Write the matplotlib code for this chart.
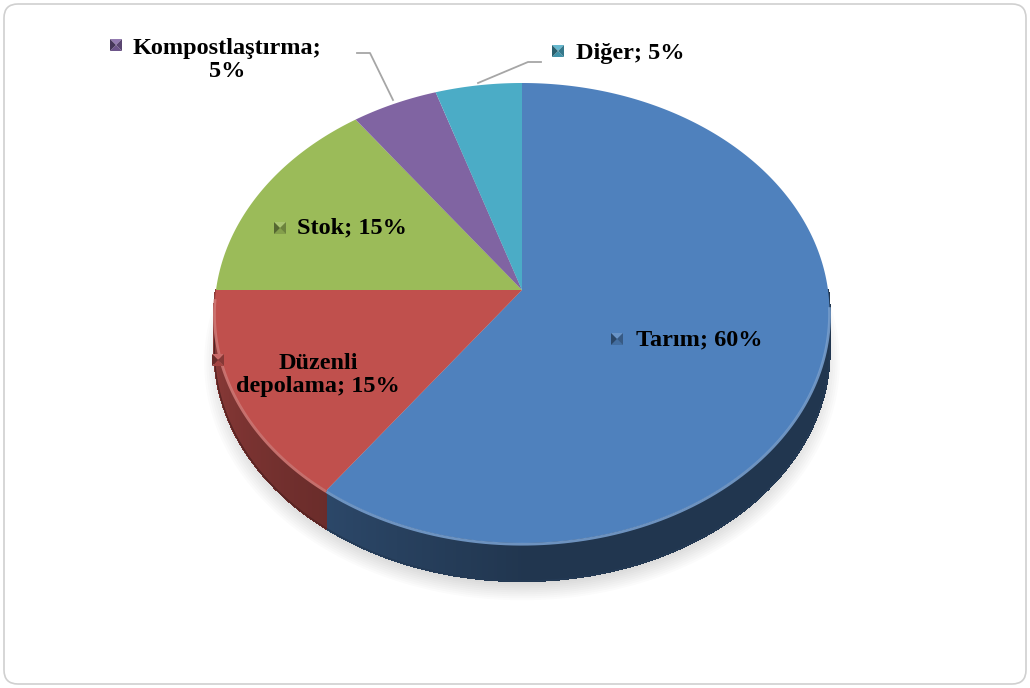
import numpy as np
import matplotlib
matplotlib.use("Agg")
from matplotlib import pyplot as plt
from matplotlib.patches import Polygon, FancyBboxPatch
from matplotlib.colors import to_rgb

# data
categories = ["Tarım", "Düzenli depolama", "Stok", "Kompostlaştırma", "Diğer"]
label_texts = ["Tarım; 60%", "Düzenli\ndepolama; 15%", "Stok; 15%", "Kompostlaştırma;\n5%", "Diğer; 5%"]
shares = [60, 15, 15, 5, 5]
colors = ["#4F81BD", "#C0504D", "#9BBB59", "#8064A2", "#4BACC6"]

# layout (pixel space of the 1030x688 picture)
W, H = 1030, 688
cx, cy = 522, 290
rx, ry, persp = 306, 227.7, 0.1
depth = 38
label_pos = [(636, 340), (318, 375), (297, 228), (227, 60), (576, 54)]
marker_pos = [(617, 339), (218, 360), (280, 228), (116, 45), (558, 51)]
label_ha = ["left", "center", "left", "center", "left"]
leaders = [None, None, None,
           [(357, 53), (370, 53), (393, 100)],
           [(541, 62), (528, 62), (478, 83)]]


def proj(t_deg, dy=0.0, scale=1.0):
    t = np.radians(t_deg)
    u, v = np.cos(t) * scale, -np.sin(t) * scale
    den = 1 - persp * v
    return np.column_stack([cx + rx * u / den, cy + ry * v / den + dy])


def shade(c, f):
    r, g, b = to_rgb(c)
    return (r * f, g * f, b * f)


def lighten(c, f):
    return tuple(x + (1 - x) * f for x in to_rgb(c))


fig = plt.figure(figsize=(W / 100, H / 100), dpi=100)
ax = fig.add_axes([0, 0, 1, 1])
ax.set_xlim(0, W)
ax.set_ylim(H, 0)
ax.axis("off")

frame = FancyBboxPatch((4, 4), W - 8, H - 8, boxstyle="round,pad=0,rounding_size=14",
                       fc="white", ec="#D0D0D0", lw=1.2, zorder=0)
ax.add_patch(frame)

# soft shadow under the pie
full = np.linspace(0, 360, 361)
for i in range(10):
    s = 0.97 + 0.007 * i
    pts = proj(full, dy=depth + 10, scale=s)
    ax.add_patch(Polygon(pts, closed=True, fc="black", ec="none", alpha=0.016, zorder=1))

# slice angles: start at 12 o'clock, clockwise
total = sum(shares)
starts = 90 - 360 * np.cumsum([0] + shares[:-1]) / total
ends = 90 - 360 * np.cumsum(shares) / total

# sides (front half only)
for c, a1, a2 in zip(colors, starts, ends):
    lo, hi = max(a2, -180), min(a1, 0)
    if lo >= hi:
        continue
    ts = np.linspace(hi, lo, max(int((hi - lo) * 2), 2))
    for ta, tb in zip(ts[:-1], ts[1:]):
        top = proj(np.array([ta, tb]))
        quad = np.vstack([top, top[::-1] + [0, depth]])
        tm = -(ta + tb) / 2
        f = 0.42 + 0.33 * np.clip((tm - 90) / 90, 0, 1)
        ax.add_patch(Polygon(quad, closed=True, fc=shade(c, f), ec=shade(c, f),
                             lw=1.0, antialiased=False, zorder=2))
    bottom = proj(np.linspace(hi, lo, 100), dy=depth)
    f_end = 0.42 + 0.33 * np.clip((-lo - 90) / 90, 0, 1)
    ax.plot(bottom[:, 0], bottom[:, 1], color=shade(c, 0.45), lw=1.0, zorder=2)

# top faces
for c, a1, a2 in zip(colors, starts, ends):
    ts = np.linspace(a1, a2, max(int(abs(a1 - a2) * 2), 3))
    pts = np.vstack([[cx, cy], proj(ts)])
    ax.add_patch(Polygon(pts, closed=True, fc=c, ec="none", zorder=3))
    lo, hi = max(a2, -178), min(a1, -4)
    if lo < hi:
        rim = proj(np.linspace(hi, lo, 100))
        ax.plot(rim[:, 0], rim[:, 1] + 1.2, color=lighten(c, 0.22), lw=2.0, zorder=4,
                solid_capstyle="butt", alpha=0.9)

# labels, markers, leader lines
for i, c in enumerate(colors):
    mx, my = marker_pos[i]
    s = 6
    dark = shade(c, 0.55)
    ax.add_patch(Polygon([(mx - s, my - s), (mx + s, my - s), (mx, my)], fc=lighten(c, 0.15), ec="none", zorder=6))
    ax.add_patch(Polygon([(mx - s, my + s), (mx + s, my + s), (mx, my)], fc=shade(c, 0.85), ec="none", zorder=6))
    ax.add_patch(Polygon([(mx - s, my - s), (mx - s, my + s), (mx, my)], fc=dark, ec="none", zorder=6))
    ax.add_patch(Polygon([(mx + s, my - s), (mx + s, my + s), (mx, my)], fc=shade(c, 0.7), ec="none", zorder=6))
    lx, ly = label_pos[i]
    ax.text(lx, ly, label_texts[i], ha=label_ha[i], va="center", fontsize=17.5,
            fontweight="bold", family="Liberation Serif", color="black",
            linespacing=1.1, zorder=7)
    if leaders[i] is not None:
        xs, ys = zip(*leaders[i])
        ax.plot(xs, ys, color="#A6A6A6", lw=1.3, zorder=5)

fig.savefig("out.png", dpi=100)
